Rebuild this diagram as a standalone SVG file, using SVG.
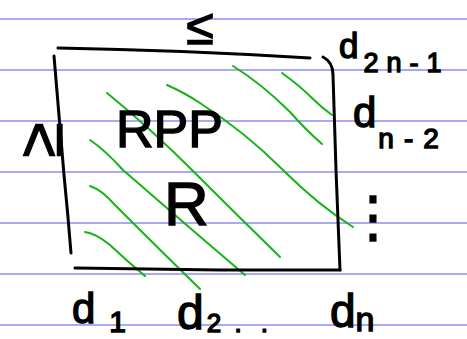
<svg xmlns="http://www.w3.org/2000/svg" width="467" height="339" viewBox="0 0 467 339">
<style>
.rule{stroke:#8c8cf5;stroke-width:1.5;fill:none}
.ink{stroke:#000;stroke-width:3;fill:none;stroke-linecap:round;stroke-linejoin:round}
.hatch{stroke:#16b416;stroke-width:2;fill:none;stroke-linecap:round}
.t{font-family:"Liberation Sans","DejaVu Sans",sans-serif;fill:#000;stroke:#000;stroke-width:1.4}
</style>
<rect width="467" height="339" fill="#fff"/>
<g id="ruling">
<line class="rule" x1="0" y1="19" x2="467" y2="19"/>
<line class="rule" x1="0" y1="70" x2="467" y2="70"/>
<line class="rule" x1="0" y1="121" x2="467" y2="121"/>
<line class="rule" x1="0" y1="172" x2="467" y2="172"/>
<line class="rule" x1="0" y1="223" x2="467" y2="223"/>
<line class="rule" x1="0" y1="274" x2="467" y2="274"/>
<line class="rule" x1="0" y1="325" x2="467" y2="325"/>
</g>
<g id="hatching">
<path class="hatch" d="M233,66 Q262,84 290,112 Q306,130 322,144"/>
<path class="hatch" d="M282,73 Q300,86 312,98 Q322,108 332,115"/>
<path class="hatch" d="M167,85 Q185,93 200,103 Q245,132 283,170 Q318,205 353,227"/>
<path class="hatch" d="M107,93 Q150,128 192,170 Q236,214 280,257"/>
<path class="hatch" d="M90,140 Q105,150 123,170 Q185,224 245,275"/>
<path class="hatch" d="M90,186 Q102,190 115,205 Q160,250 200,289"/>
<path class="hatch" d="M85,232 Q95,233 110,245 Q128,262 145,276"/>
</g>
<g id="matrix">
<path class="ink" d="M58,48 Q180,50 310,58"/>
<path class="ink" d="M54,56 Q62,150 64,175 Q68,215 71,253"/>
<path class="ink" d="M323,57 Q333,62 333,75 L336,170 L340,270"/>
<path class="ink" d="M75,268 L220,270 L340,270"/>
</g>
<g id="labels">
<text class="t" x="200" y="44" font-size="50" text-anchor="middle">≤</text>
<text class="t" transform="translate(62,140) rotate(-90)" font-size="64" text-anchor="middle">≥</text>
<text class="t" x="116" y="147" font-size="52">RPP</text>
<text class="t" x="164" y="225" font-size="62">R</text>
<text class="t" x="339" y="58" font-size="35">d<tspan font-size="27" dx="5" dy="14" letter-spacing="8">2n-1</tspan></text>
<text class="t" x="353" y="127" font-size="42">d<tspan font-size="28" dx="2" dy="21" letter-spacing="10">n-2</tspan></text>
<text class="t" x="373" y="236" font-size="56" text-anchor="middle" stroke-width="0.5">⋮</text>
<text class="t" x="72" y="323" font-size="42">d<tspan font-size="30" dx="14" dy="9">1</tspan></text>
<text class="t" x="177" y="329" font-size="48">d<tspan font-size="26" dx="3" dy="3">2</tspan><tspan font-size="26" letter-spacing="6"> . .</tspan></text>
<text class="t" x="330" y="327" font-size="46">d<tspan font-size="34" dy="4">n</tspan></text>
</g>
</svg>
